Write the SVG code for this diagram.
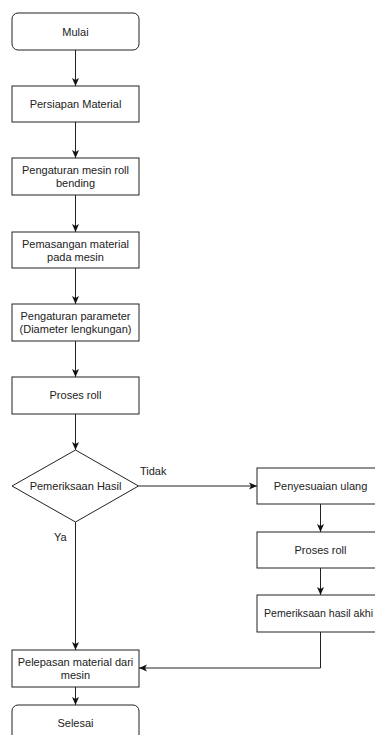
<svg xmlns="http://www.w3.org/2000/svg" width="375" height="735" viewBox="0 0 375 735">
<defs>
<marker id="arr" viewBox="0 0 8 8" refX="8" refY="4" markerWidth="8" markerHeight="8" markerUnits="userSpaceOnUse" orient="auto">
<path d="M0,0.5 L8,4 L0,7.5 L2,4 z" fill="#111"/>
</marker>
<style>
.n{fill:#fff;stroke:#222;stroke-width:1}
.t{font-family:"Liberation Sans",Arial,Helvetica,sans-serif;font-size:11px;fill:#222;text-anchor:middle}
.l{font-family:"Liberation Sans",Arial,Helvetica,sans-serif;font-size:11px;fill:#222}
.c{fill:none;stroke:#222;stroke-width:1;marker-end:url(#arr)}
</style>
</defs>
<rect width="375" height="735" fill="#fff"/>
<g id="connectors">
<path class="c" d="M75.5,50 V86"/>
<path class="c" d="M75.5,122 V158"/>
<path class="c" d="M75.5,195 V232"/>
<path class="c" d="M75.5,268 V304"/>
<path class="c" d="M75.5,341 V377"/>
<path class="c" d="M75.5,414 V450"/>
<path class="c" d="M138.5,486 H257"/>
<path class="c" d="M75.5,522 V650"/>
<path class="c" d="M320.5,504 V532"/>
<path class="c" d="M320.5,568 V595"/>
<path class="c" d="M320.5,632 V668 H139"/>
<path class="c" d="M75.5,687 V705"/>
<text class="l" x="140" y="475">Tidak</text>
<text class="l" x="54" y="541">Ya</text>
</g>
<g id="mulai">
<rect class="n" x="12" y="13" width="127" height="37" rx="6"/>
<text class="t" x="75.5" y="35.5">Mulai</text>
</g>
<g id="persiapan">
<rect class="n" x="12" y="86" width="127" height="36"/>
<text class="t" x="75.5" y="108">Persiapan Material</text>
</g>
<g id="pengaturan-mesin">
<rect class="n" x="12" y="158" width="127" height="37"/>
<text class="t" x="75.5" y="174">Pengaturan mesin roll</text>
<text class="t" x="75.5" y="187">bending</text>
</g>
<g id="pemasangan">
<rect class="n" x="12" y="232" width="127" height="36"/>
<text class="t" x="75.5" y="247.5">Pemasangan material</text>
<text class="t" x="75.5" y="260.5">pada mesin</text>
</g>
<g id="parameter">
<rect class="n" x="12" y="304" width="127" height="37"/>
<text class="t" x="75.5" y="320">Pengaturan parameter</text>
<text class="t" x="75.5" y="333">(Diameter lengkungan)</text>
</g>
<g id="proses-roll">
<rect class="n" x="12" y="377" width="127" height="37"/>
<text class="t" x="75.5" y="399">Proses roll</text>
</g>
<g id="pemeriksaan">
<polygon class="n" points="75.5,450 138.5,486 75.5,522 12,486"/>
<text class="t" x="75.5" y="490">Pemeriksaan Hasil</text>
</g>
<g id="penyesuaian">
<rect class="n" x="257" y="468" width="127" height="36"/>
<text class="t" x="320.5" y="490">Penyesuaian ulang</text>
</g>
<g id="proses-roll-2">
<rect class="n" x="257" y="532" width="127" height="36"/>
<text class="t" x="320.5" y="554">Proses roll</text>
</g>
<g id="pemeriksaan-akhir">
<rect class="n" x="257" y="595" width="127" height="37"/>
<text class="l" x="264" y="617" textLength="109" lengthAdjust="spacingAndGlyphs">Pemeriksaan hasil akhi</text>
</g>
<g id="pelepasan">
<rect class="n" x="12" y="650" width="127" height="37"/>
<text class="t" x="75.5" y="666">Pelepasan material dari</text>
<text class="t" x="75.5" y="679">mesin</text>
</g>
<g id="selesai">
<rect class="n" x="12" y="705" width="127" height="37" rx="6"/>
<text class="t" x="75.5" y="727">Selesai</text>
</g>
</svg>
